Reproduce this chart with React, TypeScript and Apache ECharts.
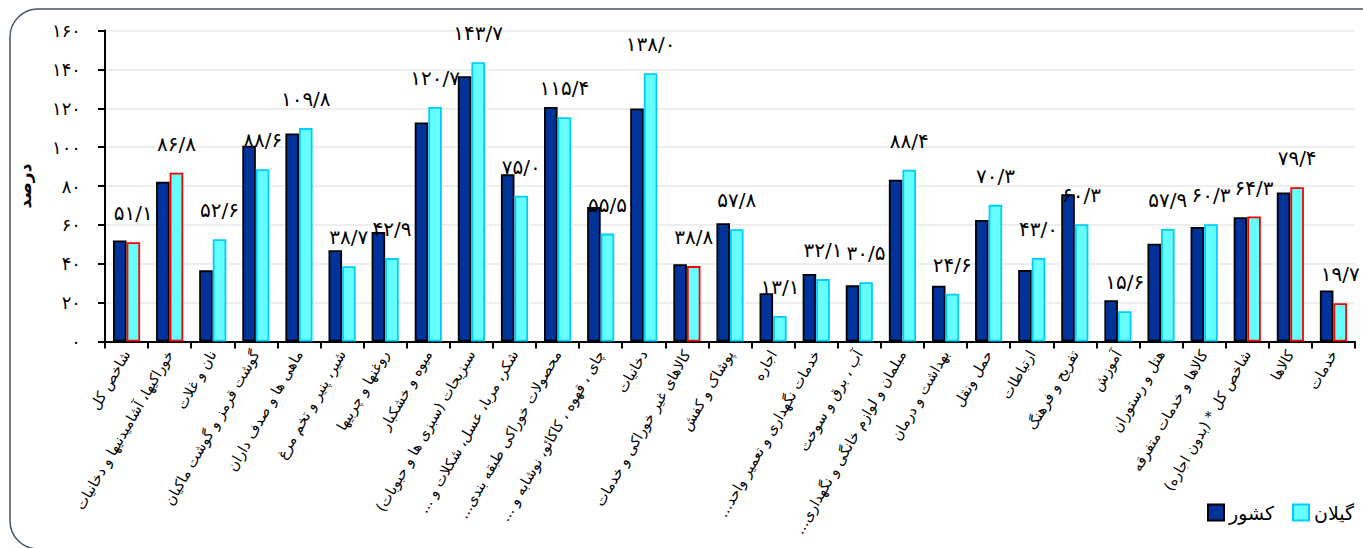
import React, { useEffect, useRef } from "react";
import * as echarts from "echarts";

const categories: string[] = [
  "شاخص کل",
  "خوراکیها، آشامیدنیها و دخانیات",
  "نان و غلات",
  "گوشت قرمز و گوشت ماکیان",
  "ماهی ها و صدف داران",
  "شیر، پنیر و تخم مرغ",
  "روغنها و چربیها",
  "میوه و خشکبار",
  "سبزیجات (سبزی ها و حبوبات)",
  "شکر، مربا، عسل، شکلات و ...",
  "محصولات خوراکی طبقه بندی...",
  "چای ، قهوه ، کاکائو، نوشابه و ...",
  "دخانیات",
  "کالاهای غیر خوراکی و خدمات",
  "پوشاک و کفش",
  "اجاره",
  "خدمات نگهداری و تعمیر واحد...",
  "آب ، برق و سوخت",
  "مبلمان و لوازم خانگی و نگهداری...",
  "بهداشت و درمان",
  "حمل ونقل",
  "ارتباطات",
  "تفریح و فرهنگ",
  "آموزش",
  "هتل و رستوران",
  "کالاها و خدمات متفرقه",
  "شاخص کل * (بدون اجاره)",
  "کالاها",
  "خدمات",
];

const keshvar: number[] = [
  52.0, 82.2, 36.6, 100.7, 107.0, 47.0, 56.3, 112.7, 136.5, 86.0, 120.7, 69.2, 119.9, 39.8,
  60.9, 24.8, 34.7, 28.9, 83.2, 28.7, 62.5, 36.8, 75.8, 21.2, 50.3, 58.9, 63.9, 76.7, 26.3,
];

const gilan: number[] = [
  51.1, 86.8, 52.6, 88.6, 109.8, 38.7, 42.9, 120.7, 143.7, 75.0, 115.4, 55.5, 138.0, 38.8,
  57.8, 13.1, 32.1, 30.5, 88.4, 24.6, 70.3, 43.0, 60.3, 15.6, 57.9, 60.3, 64.3, 79.4, 19.7,
];

// indices of the Gilan bars drawn with a red outline
const redOutlined: number[] = [0, 1, 13, 26, 27, 28];

const seriesNames: string[] = ["کشور", "گیلان"];

const FA_DIGITS = "۰۱۲۳۴۵۶۷۸۹";
const toFa = (s: string) => s.replace(/[0-9]/g, (d) => FA_DIGITS[+d]);

const FONT = "'DejaVu Sans', sans-serif";

export default function App() {
  const ref = useRef<HTMLDivElement>(null);

  useEffect(() => {
    if (!ref.current) return;
    const chart = echarts.init(ref.current, undefined, { renderer: "svg" });

    const gilanData = gilan.map((v, i) =>
      redOutlined.includes(i)
        ? { value: v, itemStyle: { borderColor: "#FF0000", borderWidth: 1.8 } }
        : { value: v }
    );

    const legendBase = {
      top: 503,
      padding: 0,
      itemWidth: 16,
      itemHeight: 16,
      icon: "rect",
      textStyle: { fontSize: 19, color: "#000", fontFamily: FONT },
    };

    chart.setOption({
      animation: false,
      backgroundColor: "#ffffff",
      textStyle: { fontFamily: FONT },
      graphic: [
        {
          type: "rect",
          shape: { x: 10, y: 9, width: 1385, height: 540, r: 28 },
          style: { fill: "none", stroke: "#44546A", lineWidth: 1.5 },
          silent: true,
          z: -10,
        },
      ],
      grid: {
        left: 105,
        right: 8,
        top: 30.5,
        bottom: 206.5,
        containLabel: false,
        outerBoundsMode: "none",
      },
      legend: [
        { ...legendBase, data: [seriesNames[0]], left: 1207 },
        { ...legendBase, data: [seriesNames[1]], left: 1292 },
      ],
      xAxis: {
        type: "category",
        data: categories.map((c) => c + "\u200F"),
        axisLine: { lineStyle: { color: "#000", width: 2 } },
        axisTick: { show: true, length: 7, lineStyle: { color: "#000", width: 2 } },
        axisLabel: {
          interval: 0,
          rotate: 60,
          margin: 10,
          fontSize: 14.5,
          color: "#000",
          fontFamily: FONT,
        },
        splitLine: { show: false },
      },
      yAxis: {
        type: "value",
        min: 0,
        max: 160,
        interval: 20,
        name: "درصد",
        nameLocation: "middle",
        nameGap: 72,
        nameRotate: 90,
        nameTextStyle: { fontSize: 17, fontWeight: "bold", color: "#000", fontFamily: FONT },
        axisLine: { show: true, lineStyle: { color: "#000", width: 2 } },
        axisTick: { show: true, length: 7, lineStyle: { color: "#000", width: 2 } },
        axisLabel: {
          margin: 24,
          fontSize: 18,
          color: "#000",
          fontFamily: FONT,
          formatter: (v: number) => toFa(String(v)),
        },
        splitLine: { show: true, lineStyle: { color: "#E8E8E8", width: 1.5 } },
      },
      series: [
        {
          name: seriesNames[0],
          type: "bar",
          data: keshvar,
          barGap: "0%",
          barCategoryGap: "37%",
          itemStyle: { color: "#003399", borderColor: "#000000", borderWidth: 1.8 },
        },
        {
          name: seriesNames[1],
          type: "bar",
          data: gilanData,
          barGap: "0%",
          barCategoryGap: "37%",
          itemStyle: { color: "#66FFFF", borderColor: "#00CCFF", borderWidth: 1.8 },
          label: {
            show: true,
            position: "top",
            distance: 19,
            fontSize: 20,
            color: "#000",
            fontFamily: FONT,
            formatter: (p: any) => toFa(Number(p.value).toFixed(1)).replace(".", "/"),
          },
        },
      ],
    });

    return () => chart.dispose();
  }, []);

  return (
    <div
      ref={ref}
      style={{ position: "fixed", left: 0, top: 0, width: 1363, height: 548 }}
    />
  );
}
